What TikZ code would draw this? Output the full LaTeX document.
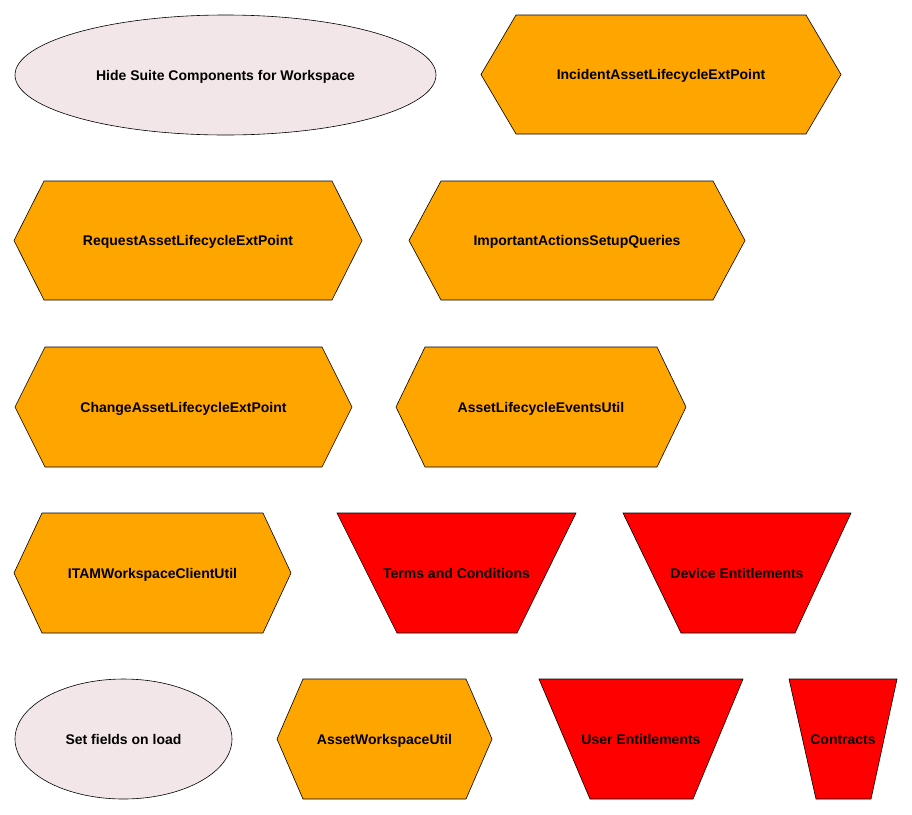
\documentclass[tikz,border=0pt]{standalone}
\usepackage{fontspec}
\setmainfont{Liberation Sans}
\usetikzlibrary{positioning}

\definecolor{ovalfill}{HTML}{F2E6E8}
\definecolor{boxorange}{HTML}{FFA500}
\definecolor{boxred}{HTML}{FF0000}

\begin{document}
\begin{tikzpicture}[x=1pt, y=-1pt,
    shapeline/.style={draw=black, line width=0.6pt, line join=miter},
    oval/.style={shapeline, fill=ovalfill},
    hexa/.style={shapeline, fill=boxorange},
    trap/.style={shapeline, fill=boxred},
    label/.style={font=\fontsize{14}{16}\selectfont\bfseries, inner sep=0pt,
        text height=10pt, text depth=0pt}]

    % Fix the page size
    \useasboundingbox (0,0) rectangle (912,814);

    % Row 1
    \draw[oval] (225.5,75) ellipse [x radius=210.5, y radius=60];
    \node[label] (hide) at (225.5,75) {Hide Suite Components for Workspace};

    \draw[hexa] (481,74.5) -- (516,15) -- (806,15) -- (841,74.5) -- (806,134) -- (516,134) -- cycle;
    \node[label] (incident) at (661,74.5) {IncidentAssetLifecycleExtPoint};

    % Row 2
    \draw[hexa] (14,240.5) -- (44,181) -- (332,181) -- (362,240.5) -- (332,300) -- (44,300) -- cycle;
    \node[label] (request) at (188,240.5) {RequestAssetLifecycleExtPoint};

    \draw[hexa] (409,240.5) -- (441,181) -- (713,181) -- (745,240.5) -- (713,300) -- (441,300) -- cycle;
    \node[label] (important) at (577,240.5) {ImportantActionsSetupQueries};

    % Row 3
    \draw[hexa] (15,407) -- (45,347) -- (322,347) -- (352,407) -- (322,467) -- (45,467) -- cycle;
    \node[label] (change) at (183.5,407) {ChangeAssetLifecycleExtPoint};

    \draw[hexa] (396,407) -- (425,347) -- (657,347) -- (686,407) -- (657,467) -- (425,467) -- cycle;
    \node[label] (events) at (541,407) {AssetLifecycleEventsUtil};

    % Row 4
    \draw[hexa] (14,573) -- (42,513) -- (263,513) -- (291,573) -- (263,633) -- (42,633) -- cycle;
    \node[label] (itam) at (152.5,573) {ITAMWorkspaceClientUtil};

    \draw[trap] (337,513) -- (576,513) -- (517,633) -- (397,633) -- cycle;
    \node[label] (terms) at (456.5,573) {Terms and Conditions};

    \draw[trap] (623,513) -- (851,513) -- (795,633) -- (681,633) -- cycle;
    \node[label] (device) at (737,573) {Device Entitlements};

    % Row 5
    \draw[oval] (123.5,739) ellipse [x radius=108.5, y radius=60];
    \node[label] (fields) at (123.5,739) {Set fields on load};

    \draw[hexa] (277,739) -- (303,679) -- (466,679) -- (492,739) -- (466,799) -- (303,799) -- cycle;
    \node[label] (workspace) at (384.5,739) {AssetWorkspaceUtil};

    \draw[trap] (539,679) -- (743,679) -- (693,799) -- (590,799) -- cycle;
    \node[label] (user) at (641,739) {User Entitlements};

    \draw[trap] (789,679) -- (897,679) -- (871,799) -- (816,799) -- cycle;
    \node[label] (contracts) at (843,739) {Contracts};

\end{tikzpicture}
\end{document}
